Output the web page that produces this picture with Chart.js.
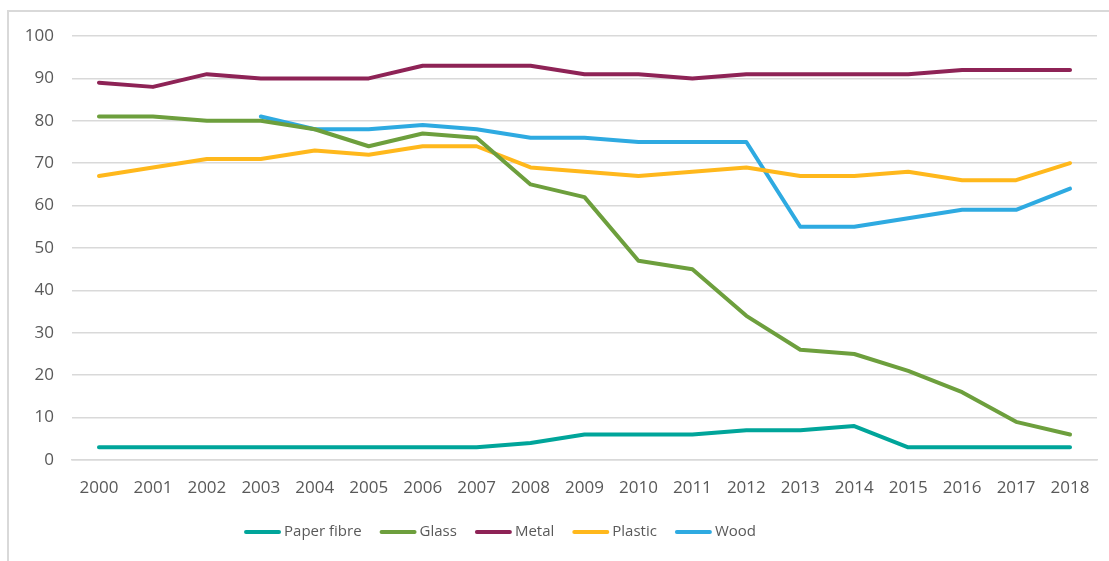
<!DOCTYPE html>
<html>
<head>
<meta charset="utf-8">
<script src="https://cdn.jsdelivr.net/npm/chart.js@4/dist/chart.umd.min.js"></script>
<style>
  html, body { margin: 0; padding: 0; background: #fff; }
  #wrap { position: relative; width: 1109px; height: 561px; overflow: hidden; }
  #frame { position: absolute; left: 7px; top: 10px; width: 1110px; height: 560px;
           border-left: 2px solid #d9d9d9; border-top: 2px solid #d9d9d9; box-sizing: border-box; }
  canvas { position: absolute; left: 0; top: 0; }
</style>
</head>
<body>
<div id="wrap">
  <div id="frame"></div>
  <canvas id="c" width="1109" height="561"></canvas>
</div>
<script>
const years = ['2000','2001','2002','2003','2004','2005','2006','2007','2008','2009','2010','2011','2012','2013','2014','2015','2016','2017','2018'];
const paperFibre = [3,3,3,3,3,3,3,3,4,6,6,6,7,7,8,3,3,3,3];
const glass = [81,81,80,80,78,74,77,76,65,62,47,45,34,26,25,21,16,9,6];
const metal = [89,88,91,90,90,90,93,93,93,91,91,90,91,91,91,91,92,92,92];
const plastic = [67,69,71,71,73,72,74,74,69,68,67,68,69,67,67,68,66,66,70];
const wood = [null,null,null,81,78,78,79,78,76,76,75,75,75,55,55,57,59,59,64];
const yTicks = [0,10,20,30,40,50,60,70,80,90,100];

const FONT = "'Open Sans', sans-serif";
function ds(label, data, color) {
  return { label, data, borderColor: color, backgroundColor: color, borderWidth: 4,
    pointRadius: 0, pointHoverRadius: 0, tension: 0, fill: false,
    borderCapStyle: 'round', borderJoinStyle: 'round' };
}

const legendPlugin = {
  id: 'customLegend',
  afterDraw(chart) {
    const ctx = chart.ctx;
    const y = 532;
    ctx.save();
    ctx.font = "15px " + FONT;
    ctx.textBaseline = 'middle';
    ctx.textAlign = 'left';
    const lineW = 37, gapText = 3, gapItem = 18;
    let total = 0;
    const items = chart.data.datasets.map(d => ({ d, w: ctx.measureText(d.label).width }));
    items.forEach((it, i) => { total += lineW + gapText + it.w + (i < items.length - 1 ? gapItem : 0); });
    let x = 500 - total / 2;
    items.forEach(it => {
      ctx.strokeStyle = it.d.borderColor;
      ctx.lineWidth = 4;
      ctx.lineCap = 'round';
      ctx.beginPath();
      ctx.moveTo(x + 2, y);
      ctx.lineTo(x + lineW - 2, y);
      ctx.stroke();
      x += lineW + gapText;
      ctx.fillStyle = '#595959';
      ctx.fillText(it.d.label, x, y);
      x += it.w + gapItem;
    });
    ctx.restore();
  }
};

new Chart(document.getElementById('c'), {
  type: 'line',
  data: {
    labels: years,
    datasets: [
      ds('Paper fibre', paperFibre, '#00a59a'),
      ds('Glass', glass, '#6d9f3d'),
      ds('Metal', metal, '#8e2356'),
      ds('Plastic', plastic, '#ffb81c'),
      ds('Wood', wood, '#2eaae1')
    ]
  },
  options: {
    responsive: false,
    animation: false,
    layout: { padding: { left: 0, right: 12, top: 36, bottom: 61 } },
    plugins: { legend: { display: false }, tooltip: { enabled: false } },
    scales: {
      x: {
        offset: true,
        grid: { display: false, drawTicks: false },
        border: { display: true, color: '#d9d9d9', width: 1.5 },
        ticks: { color: '#595959', font: { family: FONT, size: 17 }, padding: 18, maxRotation: 0, autoSkip: false },
        afterFit(scale) { scale.height = 40; }
      },
      y: {
        min: 0, max: 100,
        afterBuildTicks(scale) { scale.ticks = yTicks.map(v => ({ value: v })); },
        grid: { color: '#d9d9d9', lineWidth: 1.5, drawTicks: false },
        border: { display: false },
        ticks: { color: '#595959', font: { family: FONT, size: 17 }, padding: 18 },
        afterFit(scale) { scale.width = 72; }
      }
    }
  },
  plugins: [legendPlugin]
});
</script>
</body>
</html>
